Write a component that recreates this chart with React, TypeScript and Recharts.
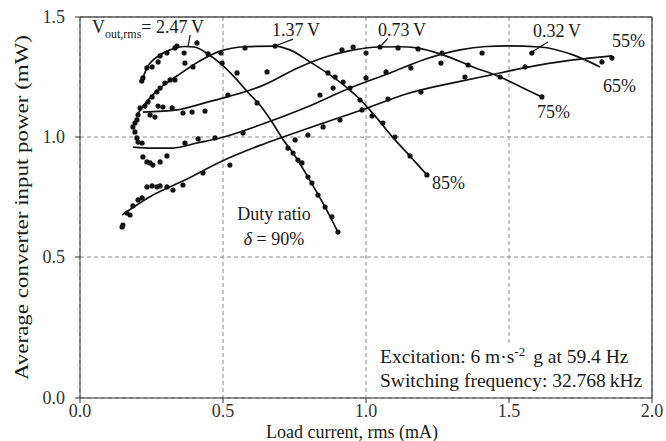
import React from "react";
import {
  ComposedChart,
  Line,
  Scatter,
  XAxis,
  YAxis,
  CartesianGrid,
  ReferenceLine,
  ReferenceDot,
  ReferenceArea,
  Label,
} from "recharts";

type Pt = [number, number];

const xTicks = [0, 0.5, 1.0, 1.5, 2.0];
// the x axis of the source sits a bit under the 0.0 level, its tick still says "0.0"
const yBottom = -0.0875;
const yTicks = [yBottom, 0.5, 1.0, 1.5];

// fitted curves, one per duty ratio (load current mA, input power mW)
const fit90: Pt[] = [
  [0.216, 1.233], [0.234, 1.288], [0.28, 1.342], [0.315, 1.363], [0.367, 1.377], [0.4, 1.375],
  [0.448, 1.345], [0.49, 1.308], [0.549, 1.238], [0.584, 1.19], [0.629, 1.133], [0.67, 1.065],
  [0.71, 0.99], [0.745, 0.933], [0.797, 0.833], [0.857, 0.708], [0.902, 0.604],
];
const fit85: Pt[] = [
  [0.199, 1.092], [0.238, 1.154], [0.28, 1.204], [0.34, 1.255], [0.42, 1.318], [0.49, 1.358],
  [0.577, 1.376], [0.682, 1.379], [0.734, 1.363], [0.804, 1.313], [0.864, 1.267], [0.934, 1.205],
  [0.979, 1.157], [1.03, 1.09], [1.1, 0.99], [1.154, 0.92], [1.213, 0.842],
];
const fit75: Pt[] = [
  [0.22, 1.104], [0.34, 1.113], [0.43, 1.14], [0.514, 1.167], [0.629, 1.21], [0.769, 1.292],
  [0.85, 1.33], [0.944, 1.36], [1.049, 1.375], [1.12, 1.376], [1.178, 1.371], [1.269, 1.342],
  [1.374, 1.292], [1.469, 1.25], [1.549, 1.204], [1.615, 1.167],
];
const fit65: Pt[] = [
  [0.185, 0.958], [0.255, 0.954], [0.325, 0.954], [0.409, 0.975], [0.49, 0.996], [0.629, 1.05],
  [0.794, 1.125], [0.944, 1.204], [1.084, 1.267], [1.199, 1.321], [1.329, 1.363], [1.42, 1.377],
  [1.493, 1.38], [1.608, 1.375], [1.724, 1.342], [1.818, 1.292],
];
const fit55: Pt[] = [
  [0.147, 0.675], [0.255, 0.758], [0.374, 0.825], [0.49, 0.896], [0.629, 0.965], [0.71, 1.0],
  [0.85, 1.058], [1.003, 1.12], [1.143, 1.18], [1.329, 1.232], [1.434, 1.258], [1.549, 1.287],
  [1.724, 1.321], [1.86, 1.338],
];

// measured points
const meas90: Pt[] = [
  [0.216, 1.233], [0.22, 1.246], [0.234, 1.288], [0.252, 1.292], [0.273, 1.313], [0.28, 1.338],
  [0.304, 1.35], [0.332, 1.371], [0.339, 1.379], [0.364, 1.35], [0.409, 1.392], [0.448, 1.346],
  [0.493, 1.35], [0.497, 1.308], [0.367, 1.308], [0.395, 1.292], [0.549, 1.267], [0.619, 1.142],
  [0.727, 0.954], [0.745, 0.933], [0.762, 0.904], [0.776, 0.892], [0.797, 0.833], [0.811, 0.808],
  [0.832, 0.758], [0.857, 0.708], [0.881, 0.667], [0.902, 0.604],
];
const meas85: Pt[] = [
  [0.185, 1.042], [0.192, 1.058], [0.192, 1.021], [0.199, 1.071], [0.199, 0.996], [0.203, 1.092],
  [0.203, 0.979], [0.21, 1.121], [0.217, 0.975], [0.227, 1.129], [0.238, 1.146], [0.252, 1.167],
  [0.269, 1.188], [0.28, 1.204], [0.297, 1.225], [0.315, 1.238], [0.332, 1.238], [0.577, 1.371],
  [0.682, 1.379], [0.654, 1.271], [0.867, 1.267], [0.892, 1.25], [0.92, 1.229], [0.944, 1.204],
  [0.979, 1.154], [0.986, 1.113], [1.021, 1.088], [1.059, 1.058], [1.101, 1.0], [1.154, 0.921],
  [1.213, 0.842],
];
const meas75: Pt[] = [
  [0.245, 1.092], [0.262, 1.083], [0.273, 1.129], [0.29, 1.125], [0.322, 1.121], [0.36, 1.1],
  [0.392, 1.104], [0.437, 1.108], [0.517, 1.175], [0.916, 1.363], [0.955, 1.375], [1.0, 1.35],
  [1.049, 1.375], [1.112, 1.371], [1.182, 1.367], [1.266, 1.35], [1.357, 1.3], [1.615, 1.167],
];
const meas65: Pt[] = [
  [0.22, 0.917], [0.234, 0.896], [0.245, 0.892], [0.255, 0.883], [0.28, 0.896], [0.304, 0.921],
  [0.367, 0.975], [0.413, 0.992], [0.472, 0.996], [0.57, 1.017], [0.839, 1.175], [0.885, 1.204],
  [1.0, 1.246], [1.07, 1.271], [1.157, 1.288], [1.262, 1.308], [1.406, 1.35], [1.58, 1.35],
  [1.825, 1.313],
];
const meas55: Pt[] = [
  [0.147, 0.625], [0.15, 0.633], [0.164, 0.683], [0.175, 0.675], [0.185, 0.713], [0.203, 0.738],
  [0.217, 0.746], [0.234, 0.792], [0.252, 0.796], [0.269, 0.792], [0.28, 0.796], [0.304, 0.792],
  [0.325, 0.779], [0.36, 0.8], [0.43, 0.85], [0.524, 0.883], [0.752, 0.988], [0.797, 1.008],
  [0.85, 1.042], [0.909, 1.071], [1.077, 1.158], [1.192, 1.188], [1.346, 1.25], [1.469, 1.25],
  [1.556, 1.292], [1.86, 1.329],
];

const fits = [fit90, fit85, fit75, fit65, fit55];
const measured = [meas90, meas85, meas75, meas65, meas55];

// output voltage labels and their leader lines
const voltLabels = [
  { x: 0.671, y: 1.421, text: "1.37\u2009V" },
  { x: 1.042, y: 1.421, text: "0.73\u2009V" },
  { x: 1.584, y: 1.417, text: "0.32\u2009V" },
];
const leaders: [Pt, Pt][] = [
  [[0.385, 1.425], [0.378, 1.378]],
  [[0.745, 1.408], [0.682, 1.379]],
  [[1.077, 1.412], [1.049, 1.375]],
  [[1.636, 1.396], [1.58, 1.354]],
];
const dutyLabels = [
  { x: 1.86, y: 1.375, text: "55%" },
  { x: 1.829, y: 1.1875, text: "65%" },
  { x: 1.598, y: 1.079, text: "75%" },
  { x: 1.231, y: 0.783, text: "85%" },
];

const font = "'Liberation Serif', 'Times New Roman', serif";
const ink = "#1a1a1a";
const textStyle = { fontFamily: font, fontSize: 18, fill: ink };
const noteStyle = { ...textStyle, fontSize: 19.5 };

const toXY = (pts: Pt[]) => pts.map(([x, y]) => ({ x, y }));

const dotShape = (p: any) => <circle cx={p.cx} cy={p.cy} r={2.6} fill="#111" />;

const textShape =
  (content: React.ReactNode, anchor: "start" | "middle" = "start", style = textStyle) =>
  (p: any) => (
    <text x={p.cx} y={p.cy} textAnchor={anchor} style={style}>
      {content}
    </text>
  );

export default function App() {
  return (
    <div style={{ position: "absolute", left: 0, top: 0, background: "#fff" }}>
      <ComposedChart width={666} height={441} margin={{ top: 17, right: 14, bottom: 0, left: 0 }}>
        <CartesianGrid strokeDasharray="4 3" stroke="#8a8a8a" strokeWidth={1} />
        <XAxis
          type="number"
          dataKey="x"
          domain={[0, 2]}
          ticks={xTicks}
          tickFormatter={(v: number) => v.toFixed(1)}
          allowDataOverflow
          height={43}
          tickSize={5}
          tickMargin={1}
          axisLine={{ stroke: "#333" }}
          tickLine={{ stroke: "#333" }}
          tick={{ fontFamily: font, fontSize: 18, fill: "#333" }}
        >
          <Label
            content={({ viewBox }: any) => (
              <text
                x={viewBox.x + viewBox.width / 2 - 14}
                y={viewBox.y + 34}
                textAnchor="middle"
                dominantBaseline="central"
                style={textStyle}
              >
                Load current, rms (mA)
              </text>
            )}
          />
        </XAxis>
        <YAxis
          type="number"
          dataKey="y"
          domain={[yBottom, 1.5]}
          ticks={yTicks}
          tickFormatter={(v: number) => (v < 0 ? "0.0" : v.toFixed(1))}
          allowDataOverflow
          width={80}
          tickSize={5}
          tickMargin={10}
          axisLine={{ stroke: "#333" }}
          tickLine={{ stroke: "#333" }}
          tick={{ fontFamily: font, fontSize: 18, fill: "#333" }}
        >
          <Label
            content={({ viewBox }: any) => {
              const cx = viewBox.x + 21;
              const cy = viewBox.y + viewBox.height / 2;
              return (
                <text
                  x={cx}
                  y={cy}
                  transform={`rotate(-90, ${cx}, ${cy})`}
                  textAnchor="middle"
                  dominantBaseline="central"
                  textLength={345}
                  lengthAdjust="spacingAndGlyphs"
                  style={{ ...textStyle, fontSize: 19 }}
                >
                  Average converter input power (mW)
                </text>
              );
            }}
          />
        </YAxis>

        <ReferenceLine y={1.5} stroke="#555" strokeWidth={1.3} />
        <ReferenceLine x={2} stroke="#444" strokeWidth={1.3} />
        <ReferenceArea
          x1={1.04}
          x2={1.995}
          y1={yBottom + 0.004}
          y2={0.135}
          fill="#fff"
          fillOpacity={1}
          stroke="none"
        />

        {fits.map((f, i) => (
          <Line
            key={`fit-${i}`}
            data={toXY(f)}
            dataKey="y"
            type="monotone"
            stroke="#111"
            strokeWidth={1.7}
            dot={false}
            activeDot={false}
            legendType="none"
            isAnimationActive={false}
          />
        ))}
        {measured.map((m, i) => (
          <Scatter
            key={`meas-${i}`}
            data={toXY(m)}
            dataKey="y"
            fill="#111"
            shape={dotShape}
            legendType="none"
            isAnimationActive={false}
          />
        ))}

        {leaders.map(([a, b], i) => (
          <ReferenceLine
            key={`lead-${i}`}
            segment={[{ x: a[0], y: a[1] }, { x: b[0], y: b[1] }]}
            stroke="#111"
            strokeWidth={1.2}
          />
        ))}

        <ReferenceDot
          x={0.042}
          y={1.433}
          r={1}
          shape={textShape(
            <>
              <tspan>V</tspan>
              <tspan dy={5} fontSize={12}>out,rms</tspan>
              <tspan dy={-5}>= 2.47&#8201;V</tspan>
            </>
          )}
        />
        {voltLabels.map((v) => (
          <ReferenceDot key={v.text} x={v.x} y={v.y} r={1} shape={textShape(v.text)} />
        ))}
        {dutyLabels.map((d) => (
          <ReferenceDot key={d.text} x={d.x} y={d.y} r={1} shape={textShape(d.text)} />
        ))}
        <ReferenceDot x={0.678} y={0.654} r={1} shape={textShape("Duty ratio", "middle")} />
        <ReferenceDot
          x={0.678}
          y={0.55}
          r={1}
          shape={textShape(
            <>
              <tspan fontStyle="italic">δ</tspan>
              <tspan> = 90%</tspan>
            </>,
            "middle"
          )}
        />
        <ReferenceDot
          x={1.049}
          y={0.058}
          r={1}
          shape={textShape(
            <>
              <tspan>Excitation: 6 m·s</tspan>
              <tspan dy={-7} fontSize={13}>-2</tspan>
              <tspan dy={7} dx={8}>g at 59.4 Hz</tspan>
            </>,
            "start",
            noteStyle
          )}
        />
        <ReferenceDot
          x={1.049}
          y={-0.042}
          r={1}
          shape={textShape("Switching frequency: 32.768\u2009kHz", "start", noteStyle)}
        />
      </ComposedChart>
    </div>
  );
}
